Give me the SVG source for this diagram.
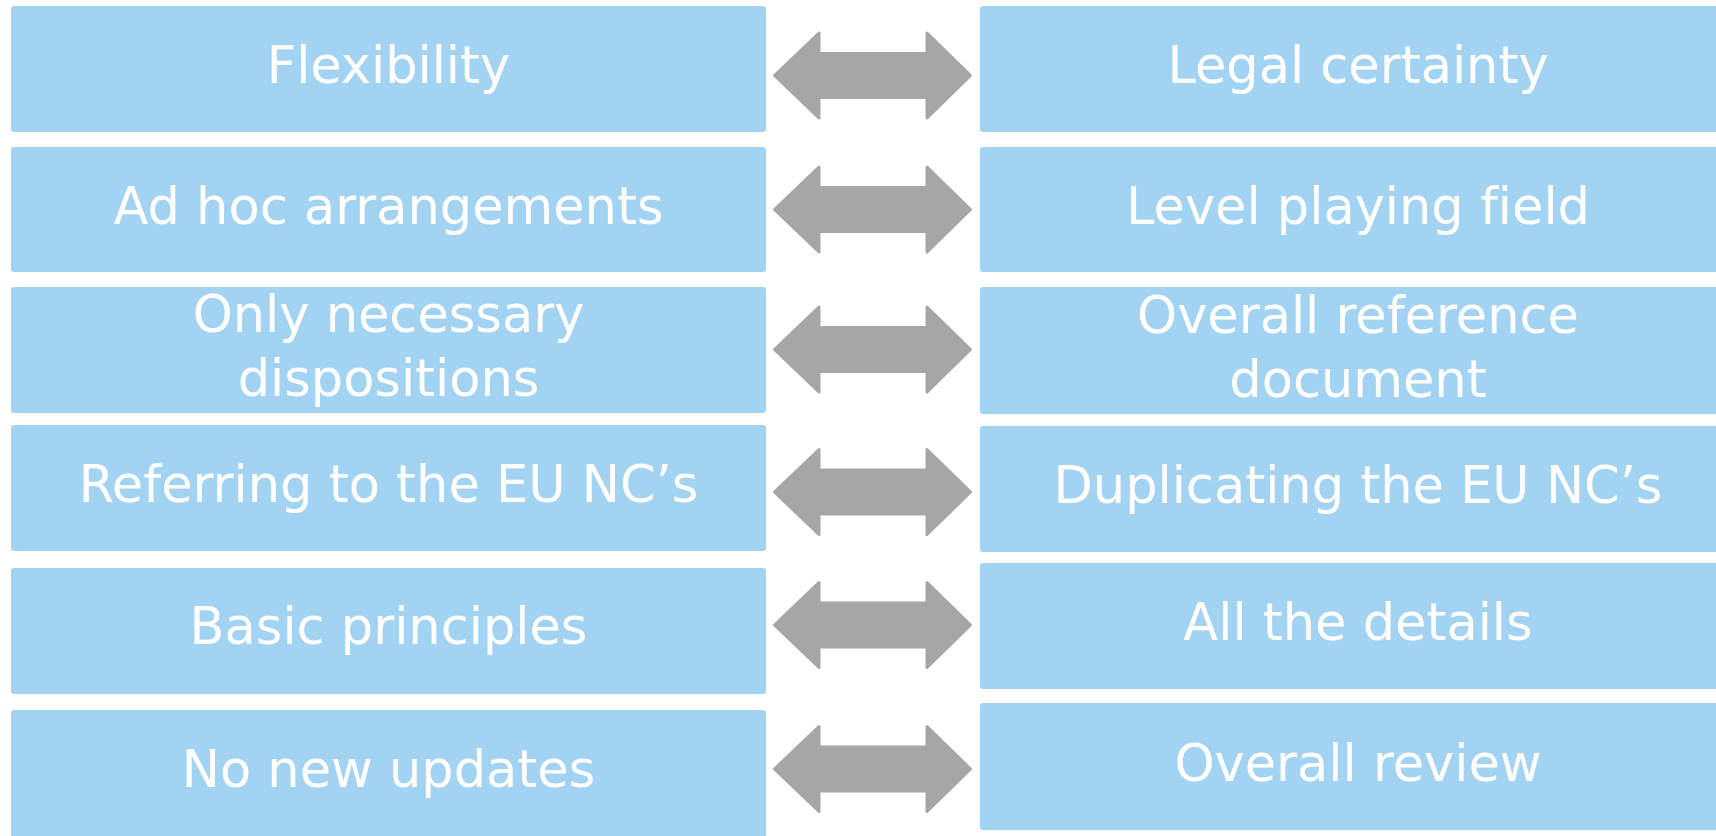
<svg xmlns="http://www.w3.org/2000/svg" xmlns:xlink="http://www.w3.org/1999/xlink" width="1716" height="836" viewBox="0 0 1716 836">
  <style>
    .box { fill: #A3D3F2; }
    .lbl { fill: #FFFFFF; font-family: "DejaVu Sans", Verdana, sans-serif; font-size: 51px; text-anchor: middle; font-variant-ligatures: none; }
    .arr { fill: #A6A6A6; stroke: #A6A6A6; stroke-width: 3; stroke-linejoin: round; }
  </style>
  <defs>
    <path id="dbl" class="arr" d="M774.5,0 L819,-42.5 L819,-22 L927,-22 L927,-42.5 L970.5,0 L927,42.5 L927,22 L819,22 L819,42.5 Z"/>
  </defs>
  <rect width="1716" height="836" fill="#FFFFFF"/>

  <g id="left1"><rect class="box" x="11" y="6" width="755" height="126" rx="3"/><text class="lbl" x="388.5" y="83">Flexibility</text></g>
  <g id="left2"><rect class="box" x="11" y="147" width="755" height="125" rx="3"/><text class="lbl" x="388.5" y="224">Ad hoc arrangements</text></g>
  <g id="left3"><rect class="box" x="11" y="287" width="755" height="126" rx="3"/><text class="lbl" x="388.5" y="332">Only necessary</text><text class="lbl" x="388.5" y="396">dispositions</text></g>
  <g id="left4"><rect class="box" x="11" y="425" width="755" height="126" rx="3"/><text class="lbl" x="388.5" y="502">Referring to the EU NC’s</text></g>
  <g id="left5"><rect class="box" x="11" y="568" width="755" height="126" rx="3"/><text class="lbl" x="388.5" y="644">Basic principles</text></g>
  <g id="left6"><rect class="box" x="11" y="710" width="755" height="130" rx="3"/><text class="lbl" x="388.5" y="787">No new updates</text></g>

  <g id="right1"><rect class="box" x="980" y="6" width="760" height="126" rx="3"/><text class="lbl" x="1358" y="83">Legal certainty</text></g>
  <g id="right2"><rect class="box" x="980" y="147" width="760" height="125" rx="3"/><text class="lbl" x="1358" y="224">Level playing field</text></g>
  <g id="right3"><rect class="box" x="980" y="287" width="760" height="127" rx="3"/><text class="lbl" x="1358" y="333">Overall reference</text><text class="lbl" x="1358" y="397">document</text></g>
  <g id="right4"><rect class="box" x="980" y="426" width="760" height="126" rx="3"/><text class="lbl" x="1358" y="503">Duplicating the EU NC’s</text></g>
  <g id="right5"><rect class="box" x="980" y="563" width="760" height="126" rx="3"/><text class="lbl" x="1358" y="640">All the details</text></g>
  <g id="right6"><rect class="box" x="980" y="703" width="760" height="127" rx="3"/><text class="lbl" x="1358" y="781">Overall review</text></g>

  <g id="connectors">
    <use xlink:href="#dbl" href="#dbl" transform="translate(0,75.5)"/>
    <use xlink:href="#dbl" href="#dbl" transform="translate(0,209.5)"/>
    <use xlink:href="#dbl" href="#dbl" transform="translate(0,349.5)"/>
    <use xlink:href="#dbl" href="#dbl" transform="translate(0,492)"/>
    <use xlink:href="#dbl" href="#dbl" transform="translate(0,625)"/>
    <use xlink:href="#dbl" href="#dbl" transform="translate(0,769)"/>
  </g>
</svg>
